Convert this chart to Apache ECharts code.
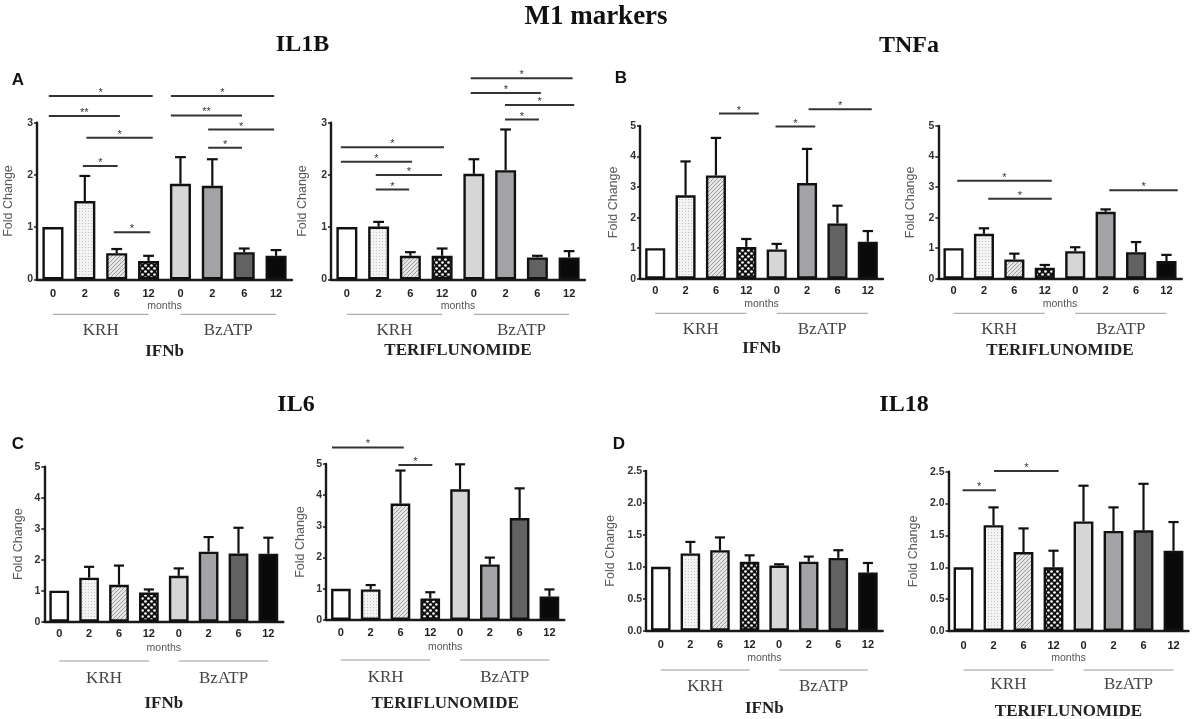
<!DOCTYPE html>
<html><head><meta charset="utf-8">
<script src="https://cdn.jsdelivr.net/npm/echarts@6.0.0/dist/echarts.min.js"></script>
<style>html,body{margin:0;padding:0;background:#fff}#c{width:1192px;height:719px}</style>
</head><body><div id="c"></div>
<script>
// ---------------- DATA ----------------
const categories = ['0', '2', '6', '12', '0', '2', '6', '12'];
const groupLabels = ['KRH', 'BzATP'];

// IL1B
const il1bIfnbMean  = [1.00, 1.50, 0.50, 0.35, 1.83, 1.79, 0.52, 0.45];
const il1bIfnbUpper = [1.00, 1.98, 0.58, 0.45, 2.34, 2.30, 0.59, 0.56];
const il1bTeriMean  = [1.00, 1.01, 0.45, 0.45, 2.02, 2.09, 0.42, 0.42];
const il1bTeriUpper = [1.00, 1.10, 0.52, 0.59, 2.30, 2.87, 0.45, 0.54];
// TNFa
const tnfaIfnbMean  = [1.00, 2.73, 3.38, 1.04, 0.96, 3.13, 1.81, 1.21];
const tnfaIfnbUpper = [1.00, 3.84, 4.61, 1.30, 1.14, 4.25, 2.39, 1.56];
const tnfaTeriMean  = [1.00, 1.47, 0.63, 0.36, 0.90, 2.19, 0.87, 0.58];
const tnfaTeriUpper = [1.00, 1.65, 0.82, 0.45, 1.03, 2.27, 1.20, 0.78];
// IL6
const il6IfnbMean   = [1.00, 1.42, 1.19, 0.94, 1.48, 2.26, 2.20, 2.19];
const il6IfnbUpper  = [1.00, 1.77, 1.81, 1.04, 1.72, 2.73, 3.03, 2.71];
const il6TeriMean   = [1.00, 0.98, 3.73, 0.69, 4.19, 1.78, 3.27, 0.75];
const il6TeriUpper  = [1.00, 1.12, 4.79, 0.89, 4.99, 2.00, 4.22, 0.98];
// IL18
const il18IfnbMean  = [1.00, 1.21, 1.26, 1.08, 1.02, 1.08, 1.14, 0.91];
const il18IfnbUpper = [1.00, 1.39, 1.46, 1.18, 1.04, 1.16, 1.26, 1.06];
const il18TeriMean  = [1.00, 1.66, 1.24, 1.00, 1.72, 1.57, 1.58, 1.26];
const il18TeriUpper = [1.00, 1.94, 1.61, 1.26, 2.28, 1.94, 2.31, 1.71];

// significance brackets: [from category, to category, level, mark]
const il1bIfnbSig = [[-0.13,3.13,3.51,'*'],[-0.13,2.10,3.13,'**'],[1.05,3.13,2.71,'*'],[0.94,2.03,2.17,'*'],[1.91,3.05,0.90,'*'],
                     [3.70,6.94,3.51,'*'],[3.70,5.93,3.14,'**'],[4.87,6.94,2.87,'*'],[4.87,5.93,2.52,'*']];
const il1bTeriSig = [[-0.19,3.06,2.53,'*'],[-0.19,2.05,2.25,'*'],[0.91,3.00,2.00,'*'],[0.91,1.96,1.72,'*'],
                     [3.90,7.11,3.85,'*'],[3.90,6.11,3.57,'*'],[4.98,7.16,3.34,'*'],[4.98,6.05,3.06,'*']];
const tnfaIfnbSig = [[2.10,3.41,5.41,'*'],[3.96,5.27,4.98,'*'],[5.05,7.13,5.55,'*']];
const tnfaTeriSig = [[0.12,3.23,3.21,'*'],[1.14,3.23,2.62,'*'],[5.12,7.37,2.90,'*']];
const il6IfnbSig  = [];
const il6TeriSig  = [[-0.30,2.11,5.53,'*'],[1.93,3.07,4.97,'*']];
const il18IfnbSig = [];
const il18TeriSig = [[-0.03,1.08,2.21,'*'],[1.02,3.17,2.51,'*']];

// ---------------- STYLE ----------------
const SANS = 'Liberation Sans, Arial, sans-serif';
const SERIF = 'Liberation Serif, Times New Roman, serif';

function makeCanvas(w, h, draw) {
  const c = document.createElement('canvas'); c.width = w; c.height = h;
  draw(c.getContext('2d')); return c;
}
const dotsImg = makeCanvas(3, 3, g => { g.fillStyle = '#f3f3f3'; g.fillRect(0,0,3,3); g.fillStyle = '#c2c2c2'; g.fillRect(1,1,1,1); });
const hatchImg = makeCanvas(4, 4, g => {
  g.fillStyle = '#e6e6e6'; g.fillRect(0,0,4,4);
  g.strokeStyle = '#9c9c9c'; g.lineWidth = 1; g.beginPath();
  g.moveTo(0,4); g.lineTo(4,0); g.moveTo(-1,1); g.lineTo(1,-1); g.moveTo(3,5); g.lineTo(5,3); g.stroke();
});
const checkImg = makeCanvas(6, 6, g => {
  g.fillStyle = '#111'; g.fillRect(0,0,6,6); g.fillStyle = '#fff';
  [[1.5,1.5],[4.5,4.5]].forEach(p => { g.beginPath(); g.arc(p[0], p[1], 1.35, 0, Math.PI*2); g.fill(); });
});
const fills = ['#ffffff', {image: dotsImg, repeat: 'repeat'}, {image: hatchImg, repeat: 'repeat'}, {image: checkImg, repeat: 'repeat'},
               '#d6d6d6', '#a3a3a6', '#626262', '#0a0a0a'];

// ---------------- LAYOUT ----------------
const panels = [
  {left:37,    top:122.7, width:255,   height:156.6, max:3,   interval:1,   omax:4, dec:0, mean:il1bIfnbMean, upper:il1bIfnbUpper, sig:il1bIfnbSig, gap:22, lm:9,  drug:'IFNb',          rows:[305.7,314.3,330.5,351.5]},
  {left:331,   top:122.7, width:254,   height:156.6, max:3,   interval:1,   omax:4, dec:0, mean:il1bTeriMean, upper:il1bTeriUpper, sig:il1bTeriSig, gap:22, lm:9,  drug:'TERIFLUNOMIDE', rows:[305.7,314.3,330.5,351.0]},
  {left:640,   top:126,   width:243,   height:152.7, max:5,   interval:1,   omax:6, dec:0, mean:tnfaIfnbMean, upper:tnfaIfnbUpper, sig:tnfaIfnbSig, gap:20, lm:7,  drug:'IFNb',          rows:[304,313.3,329.3,348.3]},
  {left:938.3, top:126,   width:243.4, height:152.7, max:5,   interval:1,   omax:6, dec:0, mean:tnfaTeriMean, upper:tnfaTeriUpper, sig:tnfaTeriSig, gap:21.5, lm:7, drug:'TERIFLUNOMIDE', rows:[304,313.3,329.3,351]},
  {left:44.3,  top:466.7, width:239,   height:155,   max:5,   interval:1,   omax:6, dec:0, mean:il6IfnbMean,  upper:il6IfnbUpper,  sig:il6IfnbSig,  gap:19, lm:7,  drug:'IFNb',          rows:[647.7,661,678.3,703.3]},
  {left:326,   top:464,   width:238.3, height:156,   max:5,   interval:1,   omax:6, dec:0, mean:il6TeriMean,  upper:il6TeriUpper,  sig:il6TeriSig,  gap:19, lm:7,  drug:'TERIFLUNOMIDE', rows:[646.7,660,677.3,703.3]},
  {left:646,   top:471,   width:236.7, height:159.7, max:2.5, interval:0.5, omax:3, dec:1, mean:il18IfnbMean, upper:il18IfnbUpper, sig:il18IfnbSig, gap:29, lm:9,  drug:'IFNb',          rows:[658.3,670,686.7,708.3]},
  {left:948.5, top:471.7, width:240,   height:159.3, max:2.5, interval:0.5, omax:3, dec:1, mean:il18TeriMean, upper:il18TeriUpper, sig:il18TeriSig, gap:28, lm:9,  drug:'TERIFLUNOMIDE', rows:[658.3,670,685,711.7]}
];

const grids = [], xAxes = [], yAxes = [], series = [], graphics = [];

function errRender(params, api) {
  const x = api.value(0), v = api.value(1), t = api.value(2);
  if (!(t > v)) return;
  const p0 = api.coord([x, v]), p1 = api.coord([x, t]);
  const w = api.size([1, 0])[0] * 0.17;
  return {type: 'group', children: [
    {type: 'line', shape: {x1: p0[0], y1: p0[1], x2: p1[0], y2: p1[1]}, style: {stroke: '#111', lineWidth: 2.2}},
    {type: 'line', shape: {x1: p1[0] - w, y1: p1[1], x2: p1[0] + w, y2: p1[1]}, style: {stroke: '#111', lineWidth: 2.2}}
  ]};
}
function sigRenderFor(sig) {
  return function (params, api) {
    const a = api.coord([api.value(0), api.value(2)]), b = api.coord([api.value(1), api.value(2)]);
    return {type: 'group', children: [
      {type: 'line', shape: {x1: a[0], y1: a[1], x2: b[0], y2: b[1]}, style: {stroke: '#333', lineWidth: 2}},
      {type: 'text', x: (a[0] + b[0]) / 2, y: a[1] + 2.5,
       style: {text: sig[params.dataIndex][3], fontSize: 11, fontFamily: SANS, fill: '#333', align: 'center', verticalAlign: 'bottom'}}
    ]};
  };
}

panels.forEach((p, k) => {
  const gi = grids.length;
  grids.push({left: p.left, top: p.top, width: p.width, height: p.height, containLabel: false, outerBoundsMode: 'none'});
  const oh = p.height * p.omax / p.max;
  grids.push({left: p.left, top: p.top + p.height - oh, width: p.width, height: oh, containLabel: false, outerBoundsMode: 'none'});

  xAxes.push({gridIndex: gi, type: 'category', data: categories,
    axisLine: {lineStyle: {color: '#1a1a1a', width: 2.4}},
    axisTick: {alignWithLabel: true, length: 3, lineStyle: {color: '#1a1a1a', width: 1.5}},
    axisLabel: {margin: p.lm, fontSize: 11, fontWeight: 'bold', color: '#222', fontFamily: SANS, interval: 0},
    splitLine: {show: false}});
  yAxes.push({gridIndex: gi, type: 'value', min: 0, max: p.max, interval: p.interval,
    name: 'Fold Change', nameLocation: 'middle', nameGap: p.gap,
    nameTextStyle: {fontSize: 12.5, color: '#5a5a5a', fontFamily: SANS},
    axisLine: {show: true, lineStyle: {color: '#1a1a1a', width: 2.4}},
    axisTick: {show: true, length: 3, lineStyle: {color: '#1a1a1a', width: 1.5}},
    axisLabel: {margin: 4, fontSize: 10.5, fontWeight: 'bold', color: '#333', fontFamily: SANS,
      formatter: v => v.toFixed(p.dec)},
    splitLine: {show: false}});
  xAxes.push({gridIndex: gi + 1, type: 'value', min: -0.5, max: 7.5, show: false});
  yAxes.push({gridIndex: gi + 1, type: 'value', min: 0, max: p.omax, show: false});

  series.push({type: 'bar', xAxisIndex: gi, yAxisIndex: gi, barWidth: '66%',
    data: p.mean.map((v, i) => ({value: v, itemStyle: {color: fills[i]}})),
    itemStyle: {borderColor: '#111', borderWidth: 2.4}, silent: true});
  series.push({type: 'custom', xAxisIndex: gi, yAxisIndex: gi, renderItem: errRender,
    data: p.mean.map((v, i) => [i, v, p.upper[i]]), z: 3, silent: true});
  if (p.sig.length) {
    series.push({type: 'custom', xAxisIndex: gi + 1, yAxisIndex: gi + 1, renderItem: sigRenderFor(p.sig),
      data: p.sig.map(s => [s[0], s[1], s[2]]), z: 4, silent: true});
  }

  // group annotations below the axis
  const band = p.width / categories.length;
  const cx = i => p.left + (i + 0.5) * band;
  const [yMonths, yLine, yGroup, yDrug] = p.rows;
  graphics.push({type: 'text', x: p.left + p.width / 2, y: yMonths,
    style: {text: 'months', fontSize: 10.5, fontFamily: SANS, fill: '#555', align: 'center', verticalAlign: 'middle'}});
  [[0, 3], [4, 7]].forEach((g, j) => {
    graphics.push({type: 'line', shape: {x1: cx(g[0]), y1: yLine, x2: cx(g[1]), y2: yLine}, style: {stroke: '#9a9a9a', lineWidth: 1}});
    graphics.push({type: 'text', x: (cx(g[0]) + cx(g[1])) / 2, y: yGroup,
      style: {text: groupLabels[j], fontSize: 17, fontFamily: SERIF, fill: '#444', align: 'center', verticalAlign: 'middle'}});
  });
  graphics.push({type: 'text', x: p.left + p.width / 2, y: yDrug,
    style: {text: p.drug, fontSize: 17, fontWeight: 'bold', fontFamily: SERIF, fill: '#222', align: 'center', verticalAlign: 'middle'}});
});

// titles & panel letters
const titles = [
  ['M1 markers', 596, 17, 27], ['IL1B', 302.5, 45, 24], ['TNFa', 909, 46, 24], ['IL6', 296, 405, 24], ['IL18', 904, 405, 24]
];
titles.forEach(t => graphics.push({type: 'text', x: t[1], y: t[2],
  style: {text: t[0], fontSize: t[3], fontWeight: 'bold', fontFamily: SERIF, fill: '#111', align: 'center', verticalAlign: 'middle'}}));
const letters = [['A', 18, 80], ['B', 621, 78], ['C', 18, 444], ['D', 619, 444]];
letters.forEach(t => graphics.push({type: 'text', x: t[1], y: t[2],
  style: {text: t[0], fontSize: 17, fontWeight: 'bold', fontFamily: SANS, fill: '#111', align: 'center', verticalAlign: 'middle'}}));

const chart = echarts.init(document.getElementById('c'), null, {renderer: 'canvas'});
chart.setOption({
  animation: false,
  backgroundColor: '#fff',
  grid: grids, xAxis: xAxes, yAxis: yAxes, series: series,
  graphic: {elements: graphics}
});
</script>
</body></html>
